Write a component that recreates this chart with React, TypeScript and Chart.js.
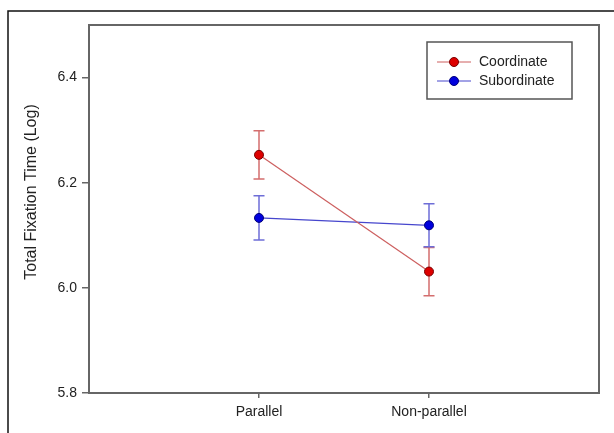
import React, { useEffect, useRef } from "react";
import { Chart, registerables } from "chart.js";

Chart.register(...registerables);

const categories = ["Parallel", "Non-parallel"];
const seriesNames = ["Coordinate", "Subordinate"];
const coordinateMeans = [6.253, 6.031];
const coordinateErr = [0.046, 0.046];
const subordinateMeans = [6.133, 6.119];
const subordinateErr = [0.042, 0.041];
const yTicks = [5.8, 6.0, 6.2, 6.4];

const FONT = "'Liberation Sans', Arial, sans-serif";

const styles = [
  { line: "rgb(205,95,95)", err: "rgb(212,110,110)", fill: "#dd0000", border: "#7a0000" },
  { line: "rgb(70,70,205)", err: "rgb(110,110,215)", fill: "#0000dd", border: "#00007a" },
];

const errors = [coordinateErr, subordinateErr];

export default function App() {
  const ref = useRef<HTMLCanvasElement | null>(null);

  useEffect(() => {
    if (!ref.current) return;

    const framePlugin = {
      id: "framePlugin",
      beforeDraw(chart: any) {
        const ctx = chart.ctx;
        ctx.save();
        ctx.fillStyle = "#ffffff";
        ctx.fillRect(0, 0, chart.width, chart.height);
        ctx.strokeStyle = "#111";
        ctx.lineWidth = 1.5;
        ctx.strokeRect(8, 11, chart.width + 20, chart.height + 20);
        // y title
        ctx.translate(32, 192);
        ctx.rotate(-Math.PI / 2);
        ctx.fillStyle = "#222";
        ctx.font = `16px ${FONT}`;
        ctx.textAlign = "center";
        ctx.textBaseline = "middle";
        ctx.fillText("Total Fixation Time (Log)", 0, 0);
        ctx.restore();
      },
      beforeDatasetsDraw(chart: any) {
        const ctx = chart.ctx;
        const xs = chart.scales.x;
        const ys = chart.scales.y;
        ctx.save();
        chart.data.datasets.forEach((ds: any, i: number) => {
          ctx.strokeStyle = styles[i].err;
          ctx.lineWidth = 1.5;
          ds.data.forEach((p: any, j: number) => {
            const e = errors[i][j];
            const x = xs.getPixelForValue(p.x);
            const yt = ys.getPixelForValue(p.y + e);
            const yb = ys.getPixelForValue(p.y - e);
            ctx.beginPath();
            ctx.moveTo(x, yt);
            ctx.lineTo(x, yb);
            ctx.moveTo(x - 5.5, yt);
            ctx.lineTo(x + 5.5, yt);
            ctx.moveTo(x - 5.5, yb);
            ctx.lineTo(x + 5.5, yb);
            ctx.stroke();
          });
        });
        ctx.restore();
      },
      afterDraw(chart: any) {
        const ctx = chart.ctx;
        const a = chart.chartArea;
        ctx.save();
        ctx.strokeStyle = "#666";
        ctx.lineWidth = 2;
        ctx.strokeRect(a.left, a.top, a.right - a.left, a.bottom - a.top);
        // legend
        ctx.strokeStyle = "#555";
        ctx.lineWidth = 1.5;
        ctx.strokeRect(427, 42, 145, 57);
        seriesNames.forEach((name, i) => {
          const y = 62 + i * 19;
          ctx.strokeStyle = styles[i].line;
          ctx.lineWidth = 1;
          ctx.beginPath();
          ctx.moveTo(437, y);
          ctx.lineTo(471, y);
          ctx.stroke();
          ctx.beginPath();
          ctx.arc(454, y, 4.5, 0, Math.PI * 2);
          ctx.fillStyle = styles[i].fill;
          ctx.fill();
          ctx.strokeStyle = styles[i].border;
          ctx.lineWidth = 1;
          ctx.stroke();
          ctx.fillStyle = "#222";
          ctx.font = `14px ${FONT}`;
          ctx.textAlign = "left";
          ctx.textBaseline = "middle";
          ctx.fillText(name, 479, y + 0.5);
        });
        ctx.restore();
      },
    };

    const mk = (vals: number[]) => vals.map((v, j) => ({ x: j + 1, y: v }));

    const chart = new Chart(ref.current, {
      type: "line",
      data: {
        datasets: [
          {
            label: seriesNames[0],
            data: mk(coordinateMeans),
            borderColor: styles[0].line,
            borderWidth: 1.2,
            pointBackgroundColor: styles[0].fill,
            pointBorderColor: styles[0].border,
            pointBorderWidth: 1,
            pointRadius: 4.5,
          },
          {
            label: seriesNames[1],
            data: mk(subordinateMeans),
            borderColor: styles[1].line,
            borderWidth: 1.2,
            pointBackgroundColor: styles[1].fill,
            pointBorderColor: styles[1].border,
            pointBorderWidth: 1,
            pointRadius: 4.5,
          },
        ],
      },
      options: {
        animation: false,
        responsive: false,
        devicePixelRatio: 1,
        layout: { padding: { top: 25, right: 15, left: 0, bottom: 0 } },
        plugins: { legend: { display: false }, tooltip: { enabled: false } },
        scales: {
          x: {
            type: "linear",
            min: 0,
            max: 3,
            afterBuildTicks: (s: any) => {
              s.ticks = categories.map((_, i) => ({ value: i + 1 }));
            },
            afterFit: (s: any) => {
              s.height = 40;
            },
            ticks: {
              callback: (v: any) => categories[Number(v) - 1] ?? "",
              font: { family: FONT, size: 14 },
              color: "#222",
              padding: 6,
              maxRotation: 0,
              autoSkip: false,
            },
            grid: { drawOnChartArea: false, drawTicks: true, tickLength: 5, color: "#666", lineWidth: 1.5 },
            border: { display: false },
          },
          y: {
            type: "linear",
            min: 5.8,
            max: 6.5,
            afterBuildTicks: (s: any) => {
              s.ticks = yTicks.map((v) => ({ value: v }));
            },
            afterFit: (s: any) => {
              s.width = 89;
            },
            ticks: {
              callback: (v: any) => Number(v).toFixed(1),
              font: { family: FONT, size: 14 },
              color: "#222",
              padding: 5,
            },
            grid: { drawOnChartArea: false, drawTicks: true, tickLength: 7, color: "#666", lineWidth: 1.5 },
            border: { display: false },
          },
        },
      },
      plugins: [framePlugin],
    } as any);

    return () => chart.destroy();
  }, []);

  return (
    <div style={{ position: "absolute", left: 0, top: 0, width: 614, height: 433 }}>
      <canvas ref={ref} width={614} height={433} style={{ display: "block" }} />
    </div>
  );
}
